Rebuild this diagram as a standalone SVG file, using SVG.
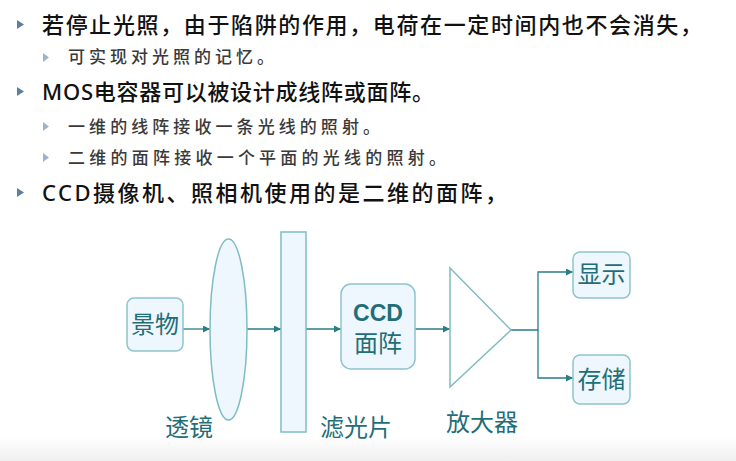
<svg xmlns="http://www.w3.org/2000/svg" width="736" height="461" viewBox="0 0 736 461">
<defs>
<linearGradient id="bg" x1="0" y1="0" x2="0" y2="1">
<stop offset="0" stop-color="#ffffff"/>
<stop offset="1" stop-color="#efefef"/>
</linearGradient>
<marker id="arr" viewBox="0 0 10 10" refX="10" refY="5" markerWidth="7" markerHeight="7" markerUnits="userSpaceOnUse" orient="auto">
<path d="M0,0 L10,5 L0,10 z" fill="#2a7c86"/>
</marker>
<style>
.main{font-family:"Noto Sans","Noto Sans CJK SC",sans-serif;font-size:22px;font-weight:500;fill:#111111}
.sub{font-family:"Noto Sans CJK SC",sans-serif;font-size:17px;font-weight:500;fill:#3a3a3a}
.b1{fill:#5f7fa2}
.b2{fill:#9fb3c8}
.box{fill:#eef7fd;stroke:#8ec4cc;stroke-width:1.5}
.shape{fill:#eef7fd;stroke:#7fbcc5;stroke-width:1.5}
.lbl{font-family:"Noto Sans CJK SC",sans-serif;font-size:24px;fill:#1f6e78;text-anchor:middle}
.ccd{font-family:"Liberation Sans",sans-serif;font-size:23px;font-weight:bold;fill:#1f6e78;text-anchor:middle}
.conn{fill:none;stroke:#2a7c86;stroke-width:1.3}
</style>
</defs>
<rect x="0" y="0" width="736" height="461" fill="#ffffff"/>
<rect x="0" y="436" width="736" height="25" fill="url(#bg)"/>

<g id="bullets">
<path class="b1" d="M17,20 L24,24.5 L17,29 z"/>
<path class="b2" d="M43,53 L49,57.5 L43,62 z"/>
<path class="b1" d="M17,87 L24,91.5 L17,96 z"/>
<path class="b2" d="M43,122 L49,126.5 L43,131 z"/>
<path class="b2" d="M43,153 L49,157.5 L43,162 z"/>
<path class="b1" d="M17,188 L24,192.5 L17,197 z"/>
</g>
<g id="text">
<text class="main" x="42" y="33" textLength="660" lengthAdjust="spacing">若停止光照，由于陷阱的作用，电荷在一定时间内也不会消失，</text>
<text class="sub" x="68" y="63" textLength="206" lengthAdjust="spacing">可实现对光照的记忆。</text>
<text class="main" x="42" y="100" textLength="392" lengthAdjust="spacing">MOS电容器可以被设计成线阵或面阵。</text>
<text class="sub" x="68" y="133" textLength="312" lengthAdjust="spacing">一维的线阵接收一条光线的照射。</text>
<text class="sub" x="68" y="164" textLength="378" lengthAdjust="spacing">二维的面阵接收一个平面的光线的照射。</text>
<text class="main" x="42" y="201" textLength="465" lengthAdjust="spacing">CCD摄像机、照相机使用的是二维的面阵，</text>
</g>

<g id="connectors">
<path class="conn" d="M183,329 L210,329" marker-end="url(#arr)"/>
<path class="conn" d="M247,329 L281,329" marker-end="url(#arr)"/>
<path class="conn" d="M306,329 L341,329" marker-end="url(#arr)"/>
<path class="conn" d="M415,329 L450,329" marker-end="url(#arr)"/>
<path class="conn" d="M511,330 L538,330 L538,272 L573,272" marker-end="url(#arr)"/>
<path class="conn" d="M538,330 L538,378 L573,378" marker-end="url(#arr)"/>
</g>

<g id="scene">
<rect class="box" x="127" y="298" width="56" height="53" rx="7"/>
<text class="lbl" x="155" y="333">景物</text>
</g>
<g id="lens">
<ellipse class="shape" cx="228.5" cy="329.5" rx="18.5" ry="90.5"/>
<text class="lbl" x="189" y="436">透镜</text>
</g>
<g id="filter">
<rect class="shape" x="281" y="232" width="25" height="200"/>
<text class="lbl" x="356" y="436">滤光片</text>
</g>
<g id="ccd">
<rect class="box" x="341" y="284" width="74" height="85" rx="10"/>
<text class="ccd" x="378" y="321">CCD</text>
<text class="lbl" x="378" y="352">面阵</text>
</g>
<g id="amp">
<path class="shape" d="M450,268 L511,330 L450,387 z" style="fill:none"/>
<text class="lbl" x="482" y="431">放大器</text>
</g>
<g id="display">
<rect class="box" x="573" y="252" width="57" height="46" rx="7"/>
<text class="lbl" x="601.5" y="283">显示</text>
</g>
<g id="storage">
<rect class="box" x="573" y="355" width="57" height="49" rx="7"/>
<text class="lbl" x="601.5" y="388">存储</text>
</g>
</svg>
